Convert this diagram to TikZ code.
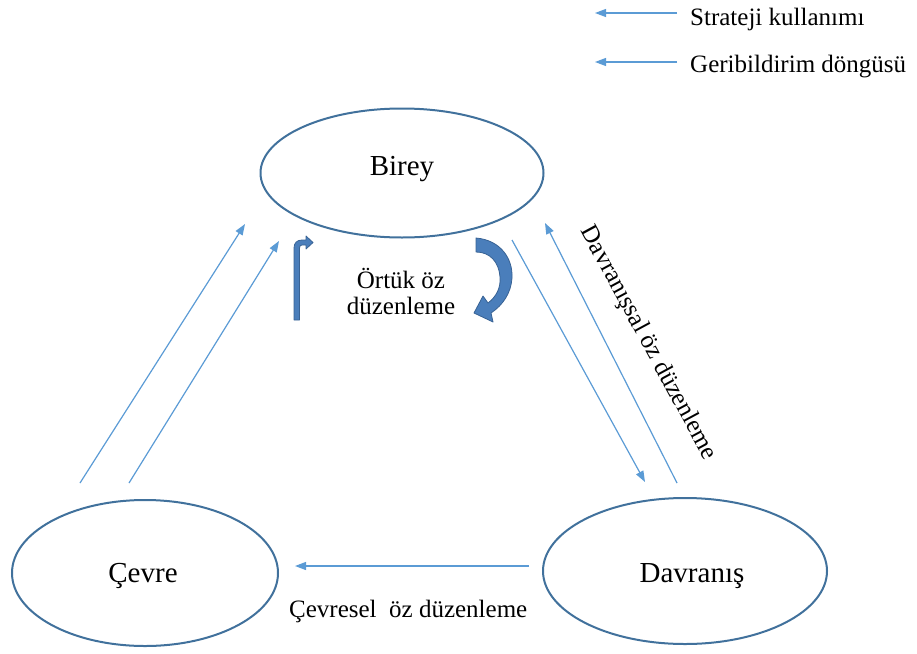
\documentclass[tikz,border=0pt]{standalone}
\usepackage{fontspec}
\setmainfont{Liberation Serif}
\usetikzlibrary{arrows.meta,shapes.geometric}
\definecolor{ellcol}{RGB}{65,113,156}
\definecolor{arrcol}{RGB}{91,155,213}
\definecolor{thickfill}{RGB}{74,126,187}
\definecolor{thickedge}{RGB}{56,98,148}
\newcommand\bigfnt{\fontsize{29}{34}\selectfont}
\newcommand\smlfnt{\fontsize{25}{26}\selectfont}
\begin{document}
\begin{tikzpicture}[x=1pt,y=-1pt,
  ell/.style={draw=ellcol, line width=2pt, ellipse, inner sep=0pt},
  conn/.style={draw=arrcol, line width=1.2pt, -{Triangle[length=11pt,width=8pt]}},
  lbl/.style={font=\bigfnt, inner sep=0pt},
  txt/.style={font=\smlfnt, inner sep=0pt},
  thickarrow/.style={fill=thickfill, draw=thickedge, line width=0.8pt, line join=round}]
\path[use as bounding box] (0,0) rectangle (917,653);

% ellipses
\node[ell, minimum width=283pt, minimum height=129pt] (birey) at (402,173) {};
\node[ell, minimum width=266pt, minimum height=146pt] (cevre) at (145,573) {};
\node[ell, minimum width=284pt, minimum height=146pt] (davranis) at (685,571) {};

% labels
\node[lbl, anchor=base] (bireyt) at (402,175) {Birey};
\node[lbl, anchor=base] (cevret) at (143,582) {Çevre};
\node[lbl, anchor=base] (davt) at (692,582) {Davranış};

% connector end points
\coordinate (c1s) at (80,483);  \coordinate (c1e) at (245,224);
\coordinate (c2s) at (129,483); \coordinate (c2e) at (279,241);
\coordinate (d1s) at (512,240); \coordinate (d1e) at (645,482);
\coordinate (d2s) at (677,483); \coordinate (d2e) at (545,223);
\coordinate (e1s) at (529,566); \coordinate (e1e) at (295,566);
\coordinate (l1s) at (677,13);  \coordinate (l1e) at (595,13);
\coordinate (l2s) at (677,62);  \coordinate (l2e) at (595,62);

\draw[conn] (c1s) -- (c1e);
\draw[conn] (c2s) -- (c2e);
\draw[conn] (d1s) -- (d1e);
\draw[conn] (d2s) -- (d2e);
\draw[conn] (e1s) -- (e1e);
\draw[conn] (l1s) -- (l1e);
\draw[conn] (l2s) -- (l2e);

% legend
\node[txt, anchor=base west] (leg1) at (690,25) {Strateji kullanımı};
\node[txt, anchor=base west] (leg2) at (690,72) {Geribildirim döngüsü};

% other texts
\node[txt, align=center] (ortuk) at (401,291) {Örtük öz\\düzenleme};
\node[txt, rotate=-61.6] (davoz) at (648,343) {Davranışsal öz düzenleme};
\node[txt, anchor=base west] (cevoz) at (289,617) {Çevresel\ \ öz düzenleme};

% bent-up arrow
\path[thickarrow] (294,320) -- (294,248) .. controls (294,243) and (297,240) .. (302,240)
  -- (306,240) -- (306,236) -- (313,242.5) -- (306,249) -- (306,245) -- (302,245)
  .. controls (300.5,245) and (299.5,246) .. (299.5,248) -- (299.5,320) -- cycle;

% curved arrow
\path[thickarrow] (476,238) .. controls (500,240) and (513,258) .. (512,278)
  .. controls (511,293) and (503,305) .. (491,313)
  -- (493,322) -- (474,313) -- (483,296) -- (488,303)
  .. controls (496,297) and (501,288) .. (500,277)
  .. controls (499,262) and (490,252) .. (476,252) -- cycle;
\end{tikzpicture}
\end{document}
